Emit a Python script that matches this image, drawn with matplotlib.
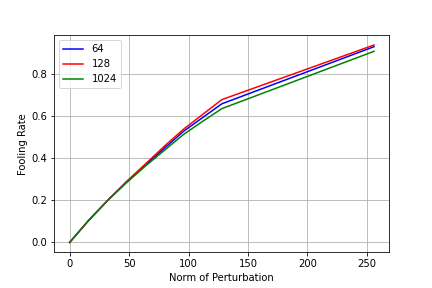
import numpy as np
import matplotlib
matplotlib.use('Agg')
import matplotlib.pyplot as plt

norms = [0, 16, 32, 48, 64, 80, 96, 112, 128, 256]
fr_64 = [0, 0.105, 0.2, 0.29, 0.37, 0.45, 0.53, 0.595, 0.66, 0.932]
fr_128 = [0, 0.105, 0.2, 0.29, 0.375, 0.46, 0.54, 0.61, 0.68, 0.94]
fr_1024 = [0, 0.105, 0.2, 0.285, 0.365, 0.44, 0.515, 0.577, 0.637, 0.91]

fig = plt.figure(figsize=(6, 4), dpi=72)
plt.subplots_adjust(left=0.126, right=0.901, top=0.878, bottom=0.124)
plt.plot(norms, fr_64, 'b', label='64')
plt.plot(norms, fr_128, 'r', label='128')
plt.plot(norms, fr_1024, 'g', label='1024')
plt.xlabel('Norm of Perturbation')
plt.ylabel('Fooling Rate')
plt.grid(True)
plt.legend(loc='upper left')
plt.savefig('out.png', dpi=72)
